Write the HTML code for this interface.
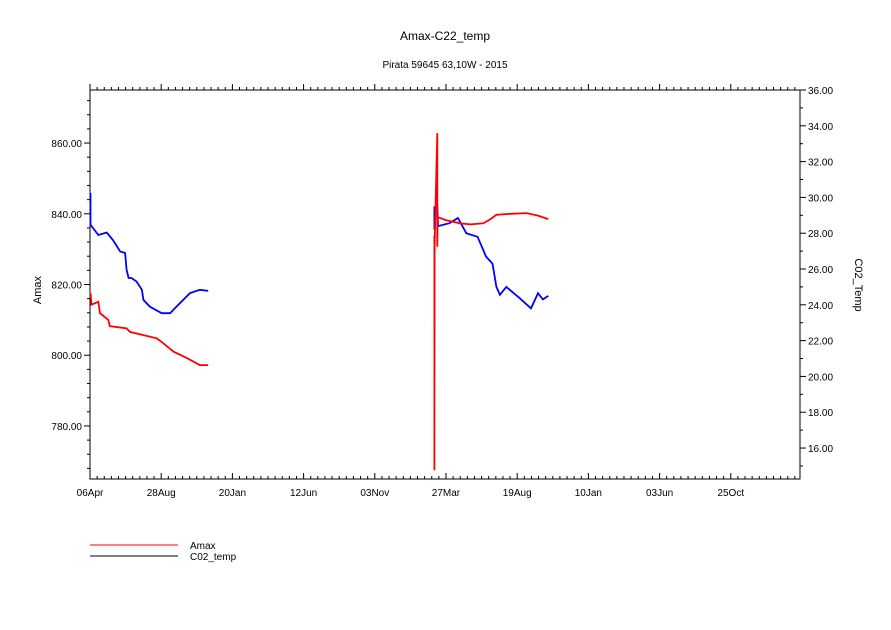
<!DOCTYPE html>
<html><head><meta charset="utf-8"><style>
html,body{margin:0;padding:0;background:#fff;}
svg{display:block;font-family:"Liberation Sans",sans-serif;}
</style></head><body>
<svg id="chart" width="891" height="630">
<text x="445" y="40" text-anchor="middle" font-size="12">Amax-C22_temp</text>
<text x="445" y="68" text-anchor="middle" font-size="10">Pirata 59645 63,10W - 2015</text>
<g id="axes"></g>
<g id="series"></g>
<text transform="translate(41,290) rotate(-90)" text-anchor="middle" font-size="11">Amax</text>
<text transform="translate(855,285) rotate(90)" text-anchor="middle" font-size="11">C02_Temp</text>
<g>
<line x1="90" y1="545" x2="178" y2="545" stroke="#f00"/>
<text x="190" y="549" font-size="10">Amax</text>
<line x1="90" y1="556" x2="178" y2="556" stroke="#000"/>
<text x="190" y="560" font-size="10">C02_temp</text>
</g>
</svg>
<script>
const xTickLabels=["06Apr","28Aug","20Jan","12Jun","03Nov","27Mar","19Aug","10Jan","03Jun","25Oct"];
const leftTicks=[780,800,820,840,860];
const rightTicks=[16,18,20,22,24,26,28,30,32,34,36];
const amaxDays1=[1,3,17,20,37,40,74,81,108,135,148,169,196,222,239];
const amaxVals1=[817.6,814.3,815.1,811.9,810,808.2,807.6,806.6,805.7,804.8,803.4,801,799.2,797.2,797.2];
const amaxDays2=[696.5,696.5,697,702.5,702.5,703,708,720,748,770,795.5,810,822,850,883,905,927];
const amaxVals2=[834,767.5,831,862.8,830.7,839,838.8,838.2,837.3,837,837.3,838.5,839.7,840,840.2,839.5,838.5];
const co2Days1=[1,1,17,34,47,61,71,74,78,84,94,105,108,121,145,162,175,202,222,239];
const co2Vals1=[30.24,28.47,27.9,28.04,27.6,26.98,26.9,25.95,25.5,25.5,25.3,24.84,24.28,23.9,23.53,23.53,23.9,24.65,24.84,24.78];
const co2Days2=[696.5,696.5,701,704,727,744,761,784,801,814,822,829,842,869,892,906,916,927];
const co2Vals2=[29.5,28.2,30.4,28.4,28.56,28.85,28.0,27.8,26.7,26.3,25.0,24.56,25.0,24.37,23.8,24.65,24.3,24.5];

const L=90,R=800,T=90,B=479;
const dayMax=1436;
const xS=d=>L+d/dayMax*(R-L);
const yL=v=>B-(v-765)/(875-765)*(B-T);
const yR=v=>B-(v-14.27)/(36-14.27)*(B-T);
const NS="http://www.w3.org/2000/svg";
function mk(tag,attrs,parent){const e=document.createElementNS(NS,tag);for(const k in attrs)e.setAttribute(k,attrs[k]);parent.appendChild(e);return e;}
const ax=document.getElementById('axes');
const frame=mk('rect',{x:L,y:T,width:R-L,height:B-T,fill:'none',stroke:'#000','stroke-width':1},ax);


// x ticks
for(let i=0;i*14.4<=dayMax;i++){
  const x=xS(i*14.4);const major=i%10===0;const len=major?6:3;
  const t1=mk('line',{x1:x,y1:B,x2:x,y2:B-len,stroke:'#000'},ax);
  
  
  const t2=mk('line',{x1:x,y1:T,x2:x,y2:T-len,stroke:'#000'},ax);
  
  
}
xTickLabels.forEach((s,i)=>{
  const t=mk('text',{x:xS(i*144),y:B+17,'text-anchor':'middle','font-size':10},ax);t.textContent=s;
  
  
});
// left ticks
for(let v=768;v<=875;v+=4){
  const major=(v%20===0);const y=yL(v);
  const t=mk('line',{x1:L,y1:y,x2:L-(major?6:3),y2:y,stroke:'#000'},ax);
  
  
}
leftTicks.forEach(v=>{
  const t=mk('text',{x:L-8,y:yL(v)+4,'text-anchor':'end','font-size':10},ax);t.textContent=v.toFixed(2);
  
  
});
// right ticks
for(let v=15;v<=36;v+=1){
  const major=(v%2===0);const y=yR(v);
  const t=mk('line',{x1:R,y1:y,x2:R+(major?6:3),y2:y,stroke:'#000'},ax);
  
  
}
rightTicks.forEach(v=>{
  const t=mk('text',{x:R+8,y:yR(v)+4,'text-anchor':'start','font-size':10},ax);t.textContent=v.toFixed(2);
  
  
});
const sg=document.getElementById('series');
function line(days,vals,ys,color,name){
  const pts=days.map((d,i)=>xS(d).toFixed(1)+','+ys(vals[i]).toFixed(1)).join(' ');
  const p=mk('polyline',{points:pts,fill:'none',stroke:color,'stroke-width':1.8},sg);
  
  
}
line(co2Days1,co2Vals1,yR,'#00f','co2-temp-line-1');
line(co2Days2,co2Vals2,yR,'#00f','co2-temp-line-2');
line(amaxDays1,amaxVals1,yL,'#f00','amax-line-1');
line(amaxDays2,amaxVals2,yL,'#f00','amax-line-2');
</script>
</body></html>
